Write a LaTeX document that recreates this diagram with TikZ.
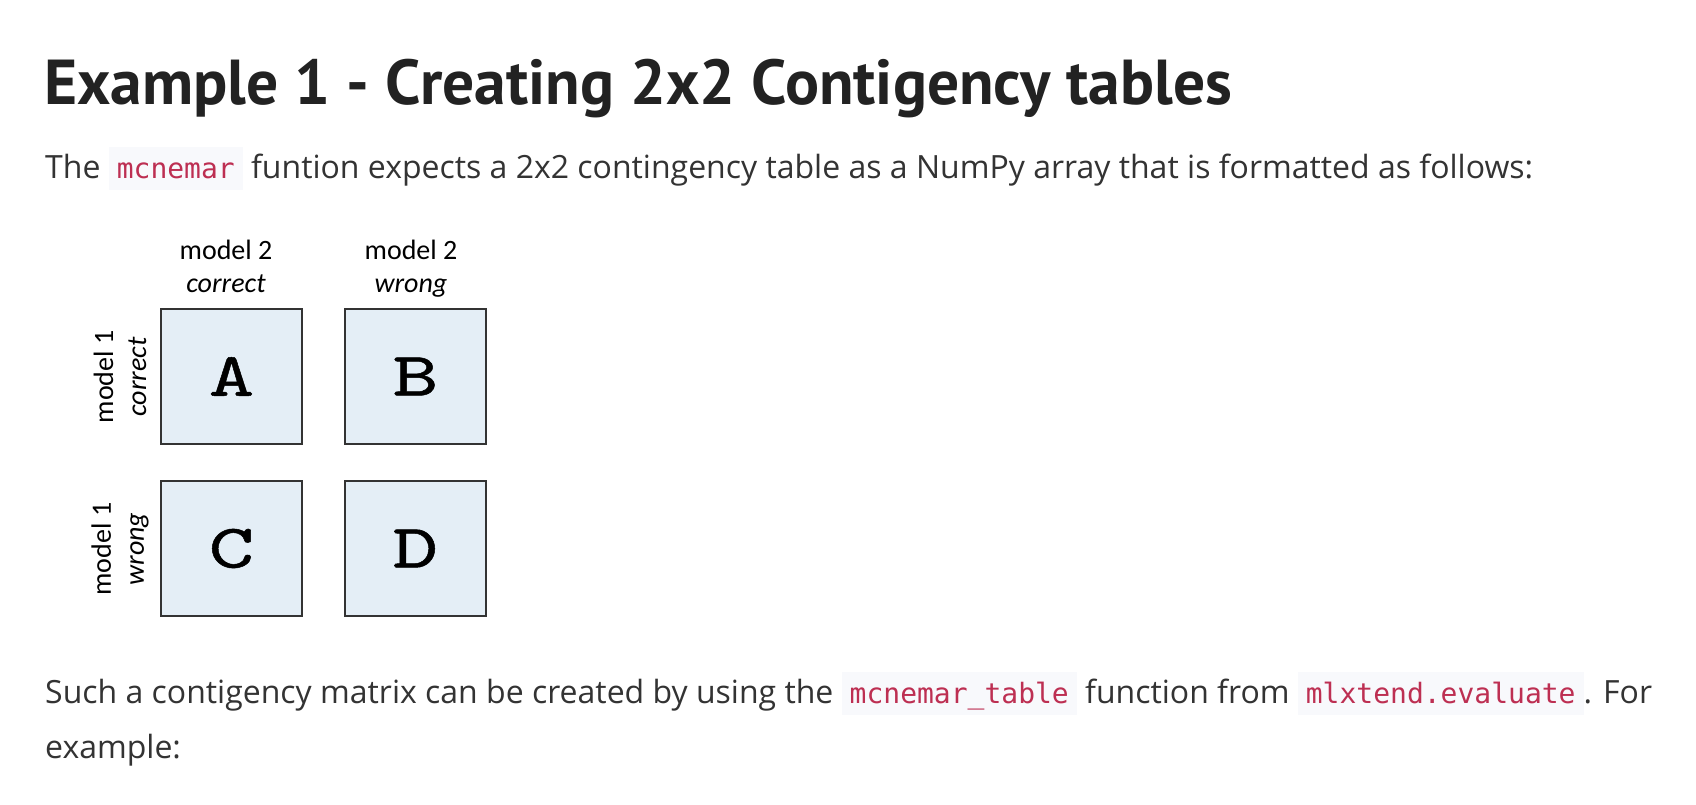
\documentclass[tikz,border=0pt]{standalone}
\usepackage{fontspec}
\setmainfont{Open Sans}
\newfontfamily\titlefont{PT Sans}
\newfontfamily\codefont{DejaVu Sans Mono}
\newfontfamily\figfont{Carlito}
\newfontfamily\letrafont{lmmono10-regular.otf}[FakeStretch=1.4,FakeBold=0.8]
\usetikzlibrary{positioning}
\definecolor{texto}{HTML}{333333}
\definecolor{titulo}{HTML}{222222}
\definecolor{codigofg}{HTML}{BD2F52}
\definecolor{codigobg}{HTML}{F8F9FC}
\definecolor{celula}{HTML}{E4EEF6}
\definecolor{borda}{HTML}{333333}
\newcommand{\codigo}[1]{{\setlength{\fboxsep}{0pt}\colorbox{codigobg}{\rule[-12pt]{0pt}{43pt}\hspace{8pt}\textcolor{codigofg}{\codefont\fontsize{28}{28}\selectfont #1}\hspace{8pt}}}}

\begin{document}
\begin{tikzpicture}[x=1pt,y=-1pt,
  node distance=35pt and 41pt,
  cell/.style={draw=borda,line width=2pt,fill=celula,minimum width=141pt,
               minimum height=135pt,inner sep=0pt,font=\letrafont\fontsize{62}{62}\selectfont},
  collabel/.style={align=center,inner sep=0pt,text=black,
                   font=\figfont\fontsize{28}{33}\selectfont},
  rowlabel/.style={collabel,rotate=90},
  para/.style={anchor=base west,inner sep=0pt,text=texto,align=left,
               font=\fontsize{32}{55}\selectfont}
]
  \path[use as bounding box,fill=white] (0,0) rectangle (1696,804);
  \node[anchor=base west,inner sep=0pt,text=titulo,
        font=\titlefont\bfseries\fontsize{63.5}{70}\selectfont] (title) at (44,104)
        {Example 1 - Creating 2x2 Contigency tables};
  \node[para] (intro) at (45,178)
        {The \codigo{mcnemar} funtion expects a 2x2 contingency table as a NumPy array that is formatted as follows:};
  % 2x2 table
  \node[cell] (A) at (231.5,376.5) {A};
  \node[cell,right=of A] (B) {B};
  \node[cell,below=of A] (C) {C};
  \node[cell,right=of C] (D) {D};
  \node[collabel,anchor=base] (m2c) at (226,292) {model 2\\\textit{correct}};
  \node[collabel,anchor=base] (m2w) at (411,292) {model 2\\\textit{wrong}};
  \node[rowlabel] (m1c) at (120,377) {model 1\\\textit{correct}};
  \node[rowlabel] (m1w) at (120,549) {model 1\\\textit{wrong}};
  \node[para] (outro) at (45,758)
        {Such a contigency matrix can be created by using the \codigo{mcnemar\_table} function from \codigo{mlxtend.evaluate}. For\\example:};
\end{tikzpicture}
\end{document}
